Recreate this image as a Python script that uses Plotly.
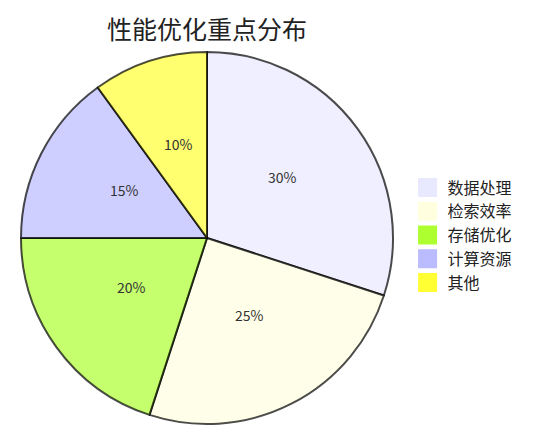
import math
import plotly.graph_objects as go

labels = ["数据处理", "检索效率", "存储优化", "计算资源", "其他"]
values = [30, 25, 20, 15, 10]
colors = ["#E8E8FF", "#FFFFE0", "#ADFF2F", "#BBBBFF", "#FFFF33"]
ALPHA = 0.7

W, H = 556, 446
M = dict(l=13, r=22, t=44, b=30)
PW = W - M["l"] - M["r"]
PH = H - M["t"] - M["b"]
PIE_FRAC = PH / PW        # pie domain is a square on the left of the plot area
LABEL_R = 0.5             # percent labels at half the radius


def with_alpha(hex_color, a):
    h = hex_color.lstrip("#")
    r, g, b = int(h[0:2], 16), int(h[2:4], 16), int(h[4:6], 16)
    return f"rgba({r},{g},{b},{a})"


fig = go.Figure()

fig.add_trace(go.Pie(
    labels=labels,
    values=values,
    sort=False,
    direction="clockwise",
    rotation=0,
    textinfo="none",
    marker=dict(colors=[with_alpha(c, ALPHA) for c in colors],
                line=dict(color="rgba(0,0,0,0.7)", width=2)),
    showlegend=False,
    domain=dict(x=[0, PIE_FRAC], y=[0, 1]),
))

# percent labels, placed at the middle angle of each slice
total = sum(values)
cx, cy = PIE_FRAC / 2, 0.5
rad = PH / 2
start = 0.0
for v in values:
    mid = (start + v / 2) / total * 2 * math.pi
    start += v
    dx = LABEL_R * rad * math.sin(mid) / PW
    dy = LABEL_R * rad * math.cos(mid) / PH
    fig.add_annotation(x=cx + dx, y=cy + dy, xref="paper", yref="paper",
                       xanchor="center", yanchor="middle", yshift=6,
                       text=f"{v / total * 100:.0f}%", showarrow=False,
                       font=dict(size=14, color="#333333"))

# legend entries with solid squares
for lab, col in zip(labels, colors):
    fig.add_trace(go.Scatter(
        x=[None], y=[None], mode="markers", name=lab,
        marker=dict(symbol="square", size=18, color=col,
                    line=dict(color=col, width=3)),
    ))

fig.update_xaxes(visible=False)
fig.update_yaxes(visible=False)

fig.update_layout(
    width=W,
    height=H,
    title=dict(text="性能优化重点分布", x=199 / W, xanchor="center",
               y=1 - 22 / H, yanchor="middle",
               font=dict(size=25, color="#222222")),
    font=dict(family="Noto Sans CJK SC, Noto Sans, sans-serif"),
    margin=M,
    legend=dict(x=0.742, y=0.508, xanchor="left", yanchor="middle",
                itemsizing="trace", font=dict(size=16, color="#222222")),
    paper_bgcolor="white",
    plot_bgcolor="white",
)

fig.write_html("out.html")
